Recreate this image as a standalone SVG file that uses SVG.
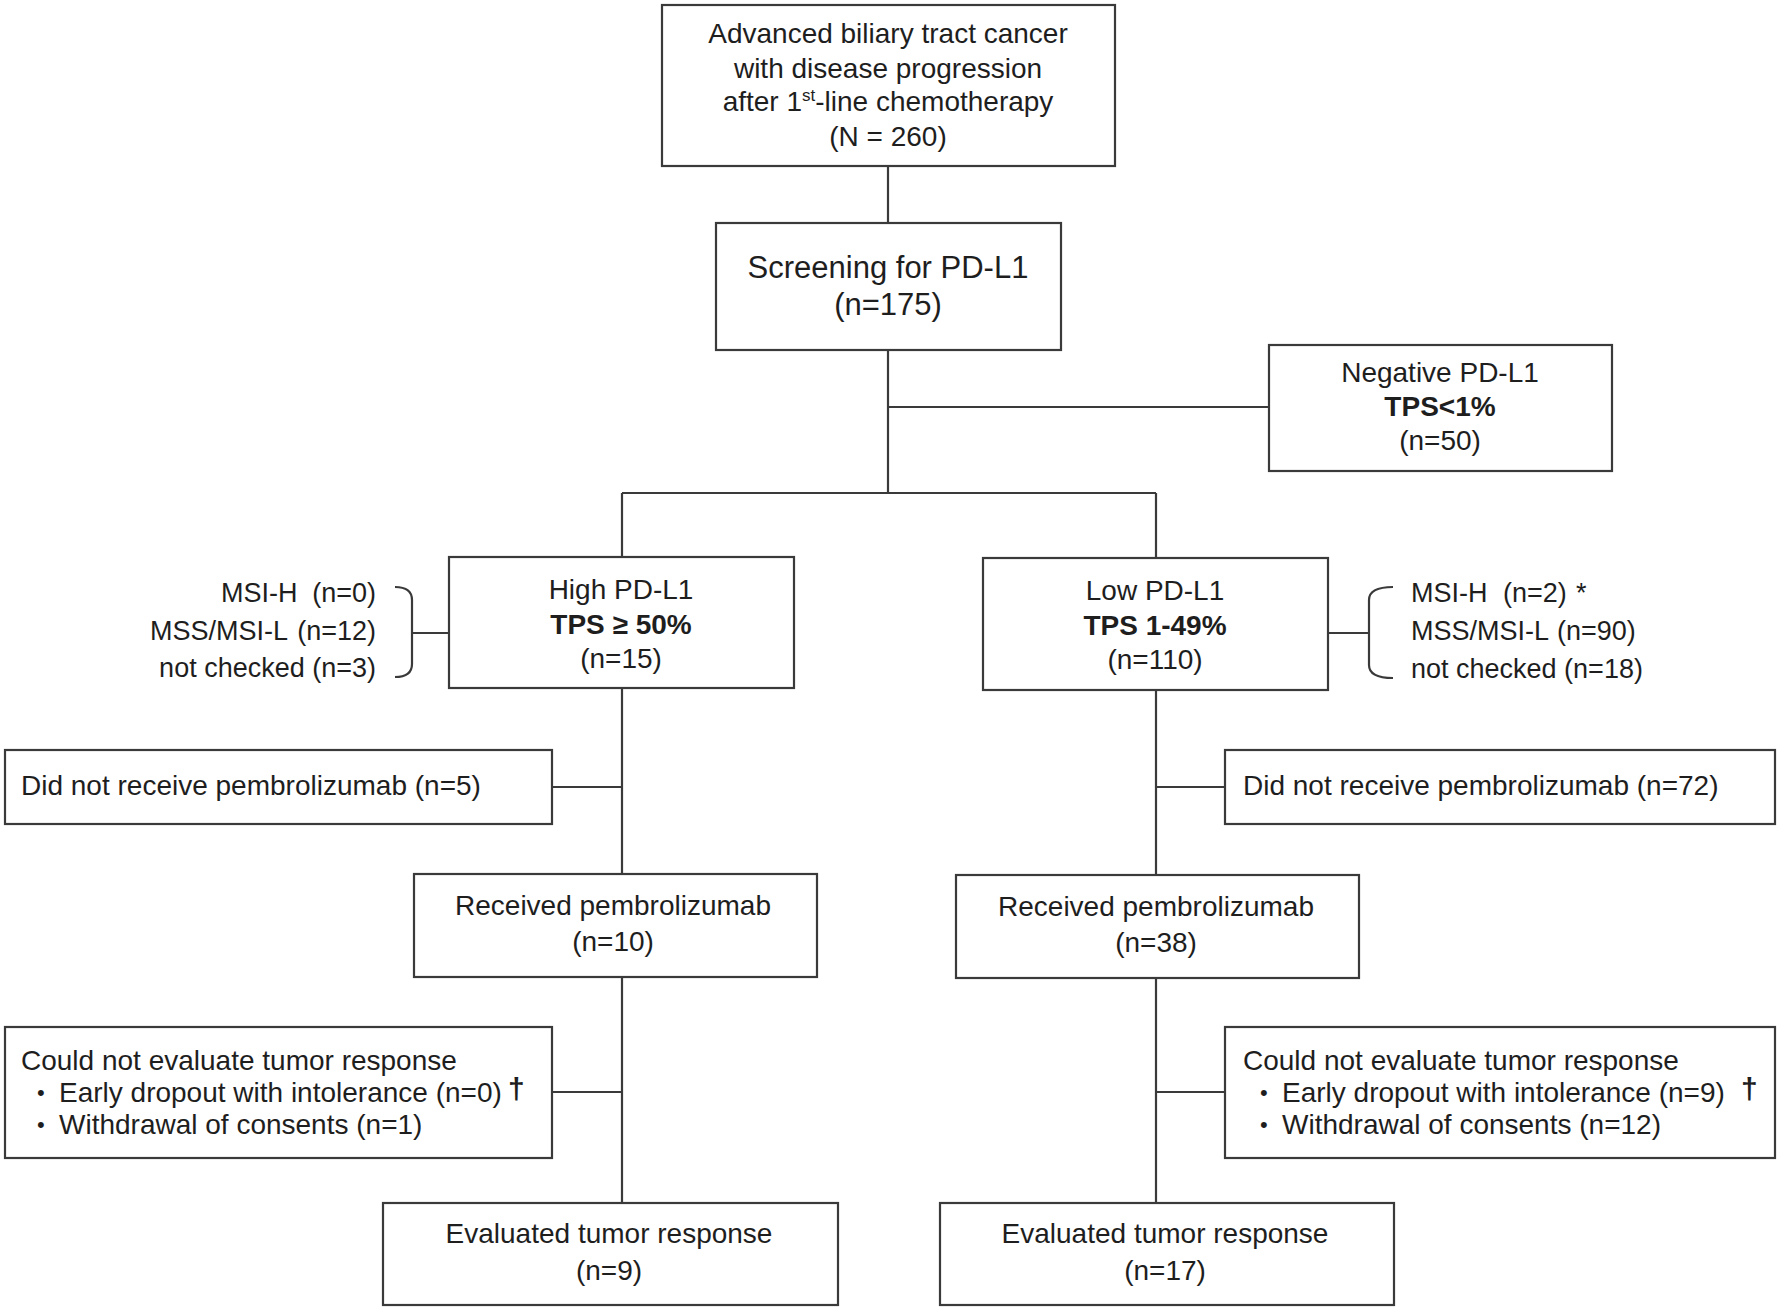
<svg xmlns="http://www.w3.org/2000/svg" width="1778" height="1310" viewBox="0 0 1778 1310">
<style>
.box{fill:#fff;stroke:#3a3a3a;stroke-width:2.2}
.ln{fill:none;stroke:#3a3a3a;stroke-width:2.2}
text{font-family:"Liberation Sans",Arial,sans-serif;font-size:28px;fill:#1e1e1e}
.c{text-anchor:middle}
.b{font-weight:bold}
.s{font-size:27px}
.big{font-size:31px}
.bu{font-size:22px}
.dg{font-size:30px;font-weight:bold}
</style>
<rect width="1778" height="1310" fill="#fff"/>
<g id="connectors">
<path class="ln" d="M888,166V223M888,350V493M888,407H1269M622,493H1156M622,493V557M1156,493V558"/>
<path class="ln" d="M622,688V874M622,787H552M1156,690V875M1156,787H1225"/>
<path class="ln" d="M622,977V1203M622,1092H552M1156,978V1203M1156,1092H1225"/>
<path class="ln" d="M395,587Q412,587 412,600V664Q412,677 395,677M412,633H449"/>
<path class="ln" d="M1393,587Q1369,587 1369,600V665Q1369,678 1393,678M1328,633H1369"/>
</g>
<g id="n-top"><rect class="box" x="662" y="5" width="453" height="161"/>
<text class="c" x="888" y="43">Advanced biliary tract cancer</text>
<text class="c" x="888" y="77.5">with disease progression</text>
<text class="c" x="888" y="111">after 1<tspan font-size="17" dy="-10">st</tspan><tspan dy="10">-line chemotherapy</tspan></text>
<text class="c" x="888" y="146">(N = 260)</text></g>
<g id="n-screen"><rect class="box" x="716" y="223" width="345" height="127"/>
<text class="c big" x="888" y="278">Screening for PD-L1</text>
<text class="c big" x="888" y="315">(n=175)</text></g>
<g id="n-neg"><rect class="box" x="1269" y="345" width="343" height="126"/>
<text class="c" x="1440" y="382">Negative PD-L1</text>
<text class="c b" x="1440" y="416">TPS&lt;1%</text>
<text class="c" x="1440" y="450">(n=50)</text></g>
<g id="n-high"><rect class="box" x="449" y="557" width="345" height="131"/>
<text class="c" x="621" y="599">High PD-L1</text>
<text class="c b" x="621" y="634">TPS ≥ 50%</text>
<text class="c" x="621" y="668">(n=15)</text></g>
<g id="n-high-msi">
<text class="s"><tspan x="221" y="602">MSI-H</tspan><tspan x="376" y="602" text-anchor="end">(n=0)</tspan></text>
<text class="s"><tspan x="150" y="640">MSS/MSI-L</tspan><tspan x="376" y="640" text-anchor="end">(n=12)</tspan></text>
<text class="s" x="376" y="677" text-anchor="end">not checked (n=3)</text></g>
<g id="n-low"><rect class="box" x="983" y="558" width="345" height="132"/>
<text class="c" x="1155" y="600">Low PD-L1</text>
<text class="c b" x="1155" y="635">TPS 1-49%</text>
<text class="c" x="1155" y="669">(n=110)</text></g>
<g id="n-low-msi">
<text class="s"><tspan x="1411" y="602">MSI-H</tspan><tspan x="1503" y="602">(n=2)</tspan><tspan x="1576" y="602">*</tspan></text>
<text class="s"><tspan x="1411" y="640">MSS/MSI-L</tspan><tspan x="1557" y="640">(n=90)</tspan></text>
<text class="s" x="1411" y="678">not checked (n=18)</text></g>
<g id="n-dnr-l"><rect class="box" x="5" y="750" width="547" height="74"/>
<text x="21" y="795">Did not receive pembrolizumab (n=5)</text></g>
<g id="n-dnr-r"><rect class="box" x="1225" y="750" width="550" height="74"/>
<text x="1243" y="795">Did not receive pembrolizumab (n=72)</text></g>
<g id="n-rec-l"><rect class="box" x="414" y="874" width="403" height="103"/>
<text class="c" x="613" y="915">Received pembrolizumab</text>
<text class="c" x="613" y="951">(n=10)</text></g>
<g id="n-rec-r"><rect class="box" x="956" y="875" width="403" height="103"/>
<text class="c" x="1156" y="916">Received pembrolizumab</text>
<text class="c" x="1156" y="952">(n=38)</text></g>
<g id="n-cne-l"><rect class="box" x="5" y="1027" width="547" height="131"/>
<text x="21" y="1070">Could not evaluate tumor response</text>
<text class="bu" x="37" y="1100">•</text><text x="59" y="1102">Early dropout with intolerance (n=0)</text>
<text class="bu" x="37" y="1132">•</text><text x="59" y="1134">Withdrawal of consents (n=1)</text>
<text class="dg" x="508" y="1099">†</text></g>
<g id="n-cne-r"><rect class="box" x="1225" y="1027" width="550" height="131"/>
<text x="1243" y="1070">Could not evaluate tumor response</text>
<text class="bu" x="1260" y="1100">•</text><text x="1282" y="1102">Early dropout with intolerance (n=9)</text>
<text class="bu" x="1260" y="1132">•</text><text x="1282" y="1134">Withdrawal of consents (n=12)</text>
<text class="dg" x="1741" y="1099">†</text></g>
<g id="n-eval-l"><rect class="box" x="383" y="1203" width="455" height="102"/>
<text class="c" x="609" y="1243">Evaluated tumor response</text>
<text class="c" x="609" y="1280">(n=9)</text></g>
<g id="n-eval-r"><rect class="box" x="940" y="1203" width="454" height="102"/>
<text class="c" x="1165" y="1243">Evaluated tumor response</text>
<text class="c" x="1165" y="1280">(n=17)</text></g>
</svg>
